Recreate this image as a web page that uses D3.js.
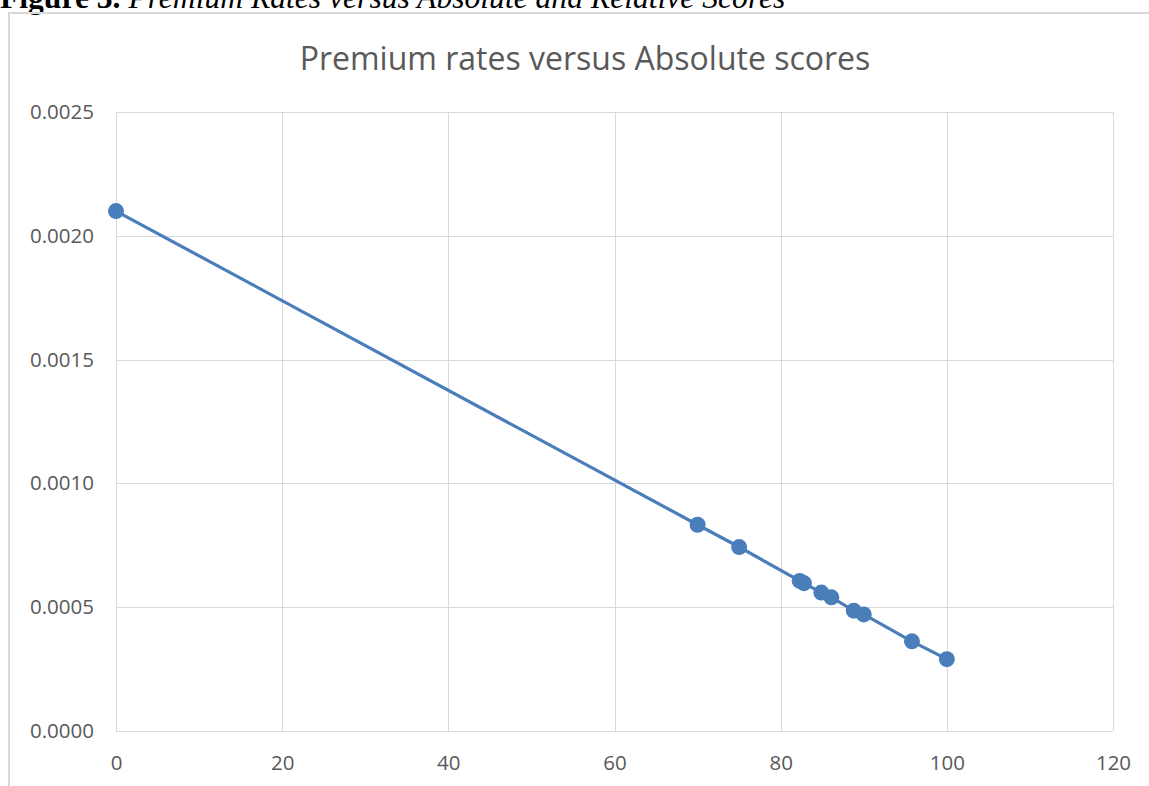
<!DOCTYPE html>
<html>
    <head>
        <script src="https://d3js.org/d3.v7.min.js"></script>
        <style>
            body { margin: 0; background: #fff; }
        </style>
    </head>
    <body>
        <div id="chart-container"></div>
        <script>
            // Data
            var scores = [0, 70, 75, 82.3, 82.8, 84.9, 86.1, 88.8, 90, 95.8, 100];
            var rates = [0.00210, 0.000833, 0.000743, 0.000606, 0.000597, 0.000559, 0.000540, 0.000486, 0.000471, 0.000362, 0.000290];
            var xTicks = [0, 20, 40, 60, 80, 100, 120];
            var yTicks = [0, 0.0005, 0.0010, 0.0015, 0.0020, 0.0025];

            var W = 1149, H = 786;
            var margin = {top: 112, right: 36, bottom: 55, left: 116},
                width = W - margin.left - margin.right,
                height = H - margin.top - margin.bottom;

            var svgRoot = d3.select("#chart-container")
                .append("svg")
                    .attr("width", W)
                    .attr("height", H);

            // caption, clipped by the top of the page as in the source
            var cap = svgRoot.append("text")
                .attr("x", 0)
                .attr("y", 8)
                .attr("font-family", "Liberation Serif")
                .attr("font-size", 31.6)
                .attr("fill", "#000");
            cap.append("tspan").attr("font-weight", "bold").text("Figure 3. ");
            cap.append("tspan").attr("font-style", "italic").text("Premium Rates versus Absolute and Relative Scores");

            // chart frame
            svgRoot.append("rect")
                .attr("x", 9)
                .attr("y", 13)
                .attr("width", 1200)
                .attr("height", 900)
                .attr("fill", "none")
                .attr("stroke", "#d9d9d9")
                .attr("stroke-width", 2);

            // title
            svgRoot.append("text")
                .attr("x", 585)
                .attr("y", 70)
                .attr("text-anchor", "middle")
                .attr("font-family", "Open Sans")
                .attr("font-size", 32)
                .attr("fill", "#595959")
                .text("Premium rates versus Absolute scores");

            var svg = svgRoot.append("g")
                .attr("transform", "translate(" + margin.left + "," + margin.top + ")");

            var x = d3.scaleLinear()
                .domain([0, 120])
                .range([0, width]);

            var y = d3.scaleLinear()
                .domain([0, 0.0025])
                .range([height, 0]);

            // gridlines
            svg.append("g")
                .selectAll("line")
                .data(xTicks)
                .enter()
                .append("line")
                    .attr("x1", function(d) { return Math.round(x(d)) + 0.5; })
                    .attr("x2", function(d) { return Math.round(x(d)) + 0.5; })
                    .attr("y1", 0)
                    .attr("y2", height)
                    .attr("stroke", "#d9d9d9")
                    .attr("stroke-width", 1);

            svg.append("g")
                .selectAll("line")
                .data(yTicks)
                .enter()
                .append("line")
                    .attr("x1", 0)
                    .attr("x2", width)
                    .attr("y1", function(d) { return Math.round(y(d)) + 0.5; })
                    .attr("y2", function(d) { return Math.round(y(d)) + 0.5; })
                    .attr("stroke", "#d9d9d9")
                    .attr("stroke-width", 1);

            // X axis labels
            var xAxis = svg.append("g")
                .attr("transform", "translate(0," + height + ")")
                .call(d3.axisBottom(x).tickValues(xTicks).tickSize(0).tickPadding(24));
            xAxis.select(".domain").remove();
            xAxis.selectAll("text")
                .attr("font-family", "Open Sans")
                .attr("font-size", 20.5)
                .attr("fill", "#595959");

            // Y axis labels
            var yAxis = svg.append("g")
                .call(d3.axisLeft(y).tickValues(yTicks).tickFormat(d3.format(".4f")).tickSize(0).tickPadding(22));
            yAxis.select(".domain").remove();
            yAxis.selectAll("text")
                .attr("font-family", "Open Sans")
                .attr("font-size", 20.5)
                .attr("fill", "#595959");

            var data = scores.map(function(d, i) { return {score: d, rate: rates[i]}; });

            // line
            svg.append("path")
                .datum(data)
                .attr("fill", "none")
                .attr("stroke", "#4a7ebb")
                .attr("stroke-width", 3.2)
                .attr("d", d3.line()
                    .x(function(d) { return x(d.score); })
                    .y(function(d) { return y(d.rate); }));

            // markers
            svg.append("g")
                .selectAll("circle")
                .data(data)
                .enter()
                .append("circle")
                    .attr("cx", function(d) { return x(d.score); })
                    .attr("cy", function(d) { return y(d.rate); })
                    .attr("r", 8)
                    .style("fill", "#4a7ebb");
        </script>
    </body>
</html>
